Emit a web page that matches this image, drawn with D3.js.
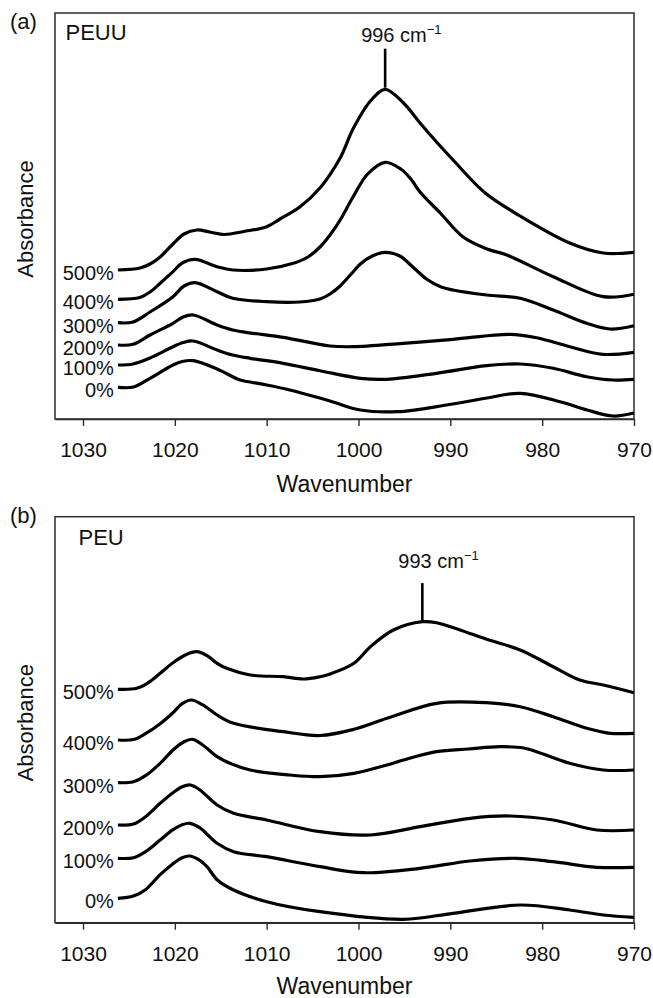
<!DOCTYPE html>
<html>
<head>
<meta charset="utf-8">
<script src="https://cdn.jsdelivr.net/npm/d3@7/dist/d3.min.js"></script>
<style>
  html, body { margin: 0; padding: 0; background: #fff; }
  svg { display: block; font-family: "Liberation Sans", Arial, Helvetica, sans-serif; }
</style>
</head>
<body>
<svg id="chart" width="653" height="998"></svg>
<script>
// Wavenumber axis ticks (cm^-1), strain levels and band labels
const wavenumberTicks = [1030, 1020, 1010, 1000, 990, 980, 970];
const strainLabels = ["0%", "100%", "200%", "300%", "400%", "500%"];
const bandLabels = ["996", "993"];

// PEUU spectra: [wavenumber, absorbance (stacked, arbitrary units)]
const peuu0 = [[1026.2,0.317],[1024.5,0.32],[1022.7,0.407],[1020.2,0.54],[1019.2,0.575],[1018.0,0.583],[1015.4,0.50],[1012.9,0.39],[1011.8,0.37],[1010.0,0.34],[1007.5,0.29],[1003.1,0.18],[999.8,0.09],[995.8,0.073],[990.4,0.14],[986.0,0.21],[982.4,0.257],[978.05,0.173],[975.1,0.09],[972.3,0.03],[970.0,0.06]];
const peuu100 = [[1026.2,0.54],[1024.55,0.55],[1022.7,0.61],[1020.2,0.723],[1019.1,0.765],[1018.0,0.78],[1015.4,0.69],[1013.7,0.64],[1011.8,0.607],[1008.2,0.557],[1004.2,0.483],[999.8,0.407],[996.9,0.397],[991.5,0.457],[986.05,0.533],[982.4,0.55],[978.8,0.507],[975.15,0.423],[972.3,0.39],[970.0,0.397]];
const peuu200 = [[1026.2,0.74],[1024.55,0.747],[1022.7,0.84],[1020.2,0.957],[1019.1,1.02],[1018.0,1.04],[1015.4,0.94],[1013.7,0.89],[1011.5,0.857],[1008.2,0.817],[1003.1,0.73],[1000.6,0.723],[995.15,0.757],[989.7,0.797],[983.5,0.847],[980.6,0.813],[977.0,0.723],[973.4,0.647],[970.0,0.667]];
const peuu300 = [[1026.2,0.963],[1024.55,0.97],[1022.7,1.07],[1020.2,1.223],[1019.0,1.33],[1017.8,1.363],[1015.4,1.273],[1013.7,1.207],[1010.0,1.173],[1006.4,1.17],[1004.2,1.20],[1003.1,1.25],[1002.0,1.33],[1000.6,1.47],[999.8,1.55],[998.5,1.63],[997.1,1.667],[995.5,1.63],[994.2,1.53],[992.6,1.40],[991.0,1.32],[989.7,1.29],[986.05,1.24],[982.4,1.207],[978.8,1.09],[975.15,0.957],[972.6,0.90],[970.0,0.933]];
const peuu400 = [[1026.2,1.197],[1023.8,1.215],[1022.7,1.27],[1021.6,1.357],[1020.2,1.473],[1019.2,1.56],[1017.8,1.597],[1015.4,1.523],[1013.7,1.49],[1010.0,1.50],[1007.1,1.557],[1005.5,1.62],[1004.2,1.72],[1003.1,1.84],[1002.0,1.99],[1000.6,2.22],[999.0,2.45],[997.1,2.567],[995.4,2.50],[994.3,2.40],[993.3,2.27],[991.1,2.06],[988.6,1.82],[986.0,1.70],[983.85,1.64],[978.8,1.423],[973.35,1.223],[970.0,1.247]];
const peuu500 = [[1026.2,1.49],[1023.8,1.51],[1022.7,1.55],[1021.6,1.62],[1020.2,1.75],[1019.0,1.85],[1017.6,1.89],[1016.2,1.87],[1014.6,1.845],[1012.5,1.875],[1010.0,1.923],[1008.55,2.0],[1006.4,2.12],[1004.2,2.31],[1002.0,2.61],[1000.6,2.90],[998.7,3.18],[997.1,3.297],[995.1,3.16],[993.3,2.96],[991.5,2.77],[989.7,2.59],[986.2,2.26],[982.4,2.03],[977.0,1.76],[973.35,1.66],[970.0,1.667]];

// PEU spectra: [wavenumber, absorbance (stacked, arbitrary units)]
const peu0 = [[1026.2,0.244],[1024.5,0.267],[1023.2,0.33],[1021.6,0.48],[1020.2,0.59],[1019.2,0.65],[1018.4,0.667],[1017.4,0.63],[1016.5,0.56],[1015.4,0.43],[1013.6,0.327],[1010.0,0.21],[1004.2,0.11],[995.1,0.034],[989.7,0.094],[982.4,0.177],[977.0,0.127],[973.35,0.077],[970.0,0.054]];
const peu100 = [[1026.2,0.644],[1024.5,0.65],[1023.2,0.71],[1021.6,0.827],[1020.2,0.93],[1019.2,0.98],[1018.35,0.994],[1017.3,0.95],[1015.4,0.794],[1013.6,0.71],[1010.0,0.66],[1004.2,0.56],[999.45,0.50],[993.3,0.544],[987.85,0.617],[982.8,0.644],[978.8,0.61],[974.05,0.554],[970.0,0.554]];
const peu200 = [[1026.2,0.977],[1024.5,0.987],[1023.2,1.06],[1021.6,1.194],[1020.2,1.30],[1019.2,1.36],[1018.3,1.377],[1017.3,1.33],[1015.4,1.177],[1013.6,1.094],[1010.0,1.027],[1004.2,0.91],[998.7,0.877],[993.3,0.96],[987.85,1.044],[983.5,1.067],[978.8,1.027],[974.05,0.927],[970.0,0.927]];
const peu300 = [[1026.2,1.40],[1024.5,1.41],[1023.2,1.47],[1021.6,1.594],[1020.2,1.727],[1019.0,1.81],[1018.05,1.834],[1017.0,1.78],[1015.4,1.66],[1014.0,1.594],[1011.8,1.527],[1007.5,1.477],[1004.2,1.46],[1000.5,1.494],[996.9,1.577],[995.1,1.627],[991.5,1.71],[988.0,1.737],[984.6,1.76],[982.0,1.747],[980.6,1.71],[977.0,1.594],[973.35,1.527],[970.0,1.527]];
const peu400 = [[1026.2,1.827],[1024.5,1.832],[1023.2,1.89],[1021.6,1.99],[1020.2,2.10],[1019.2,2.19],[1018.2,2.227],[1017.0,2.18],[1015.4,2.077],[1013.6,1.994],[1008.2,1.91],[1004.2,1.872],[1000.5,1.934],[996.9,2.044],[991.5,2.194],[986.05,2.20],[982.4,2.16],[978.8,2.06],[975.15,1.944],[972.6,1.894],[970.0,1.894]];
const peu500 = [[1026.2,2.334],[1024.15,2.344],[1022.9,2.40],[1021.6,2.494],[1020.2,2.60],[1018.8,2.68],[1017.6,2.71],[1016.5,2.67],[1015.4,2.594],[1014.35,2.544],[1011.8,2.477],[1008.2,2.46],[1006.0,2.437],[1004.2,2.46],[1003.1,2.487],[1000.5,2.594],[998.7,2.76],[996.2,2.927],[993.05,3.01],[991.5,3.00],[988.95,2.927],[986.05,2.834],[982.4,2.727],[978.8,2.56],[975.9,2.427],[973.35,2.377],[970.0,2.30]];

const svg = d3.select("#chart");
const FONT = "\"Liberation Sans\", Arial, Helvetica, sans-serif";

const plotLeft = 55, plotRight = 634;
const x = d3.scaleLinear().domain([1033.05, 970]).range([plotLeft, plotRight]);

const panels = [
  { tag: "(a)", name: "PEUU", series: [peuu0, peuu100, peuu200, peuu300, peuu400, peuu500],
    band: bandLabels[0], top: 13, bottom: 419, tagY: 29, nameX: 65.5, nameY: 40, stem: 39, textGap: 7, titleY: 492 },
  { tag: "(b)", name: "PEU", series: [peu0, peu100, peu200, peu300, peu400, peu500],
    band: bandLabels[1], top: 516.7, bottom: 922.7, tagY: 523, nameX: 78.5, nameY: 545, stem: 37, textGap: 15.5, titleY: 993.5 }
];

panels.forEach(p => {
  const y = d3.scaleLinear().domain([0, 4.06]).range([p.bottom, p.top]);
  const g = svg.append("g");

  // frame
  g.append("rect")
    .attr("x", plotLeft).attr("y", p.top)
    .attr("width", plotRight - plotLeft).attr("height", p.bottom - p.top)
    .attr("fill", "none").attr("stroke", "#2b2b2b").attr("stroke-width", 1.5);

  // wavenumber axis
  const axis = d3.axisBottom(x).tickValues(wavenumberTicks).tickSize(7).tickSizeOuter(0).tickPadding(16)
    .tickFormat(d3.format("d"));
  const ax = g.append("g").attr("transform", `translate(0,${p.bottom})`).call(axis);
  ax.select(".domain").attr("stroke", "#2b2b2b").attr("stroke-width", 1.5);
  ax.selectAll(".tick line").attr("stroke", "#2b2b2b").attr("stroke-width", 1.4);
  ax.selectAll(".tick text").attr("fill", "#111").style("font-size", "21px").style("font-family", FONT);

  g.append("text")
    .attr("x", (plotLeft + plotRight) / 2).attr("y", p.titleY)
    .attr("text-anchor", "middle").attr("fill", "#111")
    .style("font-size", "23px").text("Wavenumber");

  g.append("text")
    .attr("transform", `translate(33,${(p.top + p.bottom) / 2 + 3}) rotate(-90)`)
    .attr("text-anchor", "middle").attr("fill", "#111")
    .style("font-size", "22px").text("Absorbance");

  // panel tag and polymer name
  g.append("text").attr("x", 10).attr("y", p.tagY).attr("fill", "#111")
    .style("font-size", "22px").text(p.tag);
  g.append("text").attr("x", p.nameX).attr("y", p.nameY).attr("fill", "#111")
    .style("font-size", "22px").text(p.name);

  // spectra
  const line = d3.line().x(d => x(d[0])).y(d => y(d[1])).curve(d3.curveCatmullRom.alpha(0.5));
  g.selectAll("path.spectrum").data(p.series).join("path")
    .attr("class", "spectrum")
    .attr("d", line)
    .attr("fill", "none").attr("stroke", "#000").attr("stroke-width", 3.2)
    .attr("stroke-linejoin", "round").attr("stroke-linecap", "butt");

  // strain labels at the start of each spectrum
  g.selectAll("text.strain").data(p.series).join("text")
    .attr("class", "strain")
    .attr("x", d => x(d[0][0]) - 4)
    .attr("y", d => y(d[0][1]) + 3 + 7)
    .attr("text-anchor", "end").attr("fill", "#111")
    .style("font-size", "20px")
    .text((d, i) => strainLabels[i]);

  // band marker at the maximum of the top spectrum
  const top = p.series[p.series.length - 1];
  const peak = top.reduce((a, b) => (b[1] > a[1] ? b : a));
  const px = x(peak[0]), py = y(peak[1]) - 1.6;
  g.append("line")
    .attr("x1", px).attr("x2", px).attr("y1", py).attr("y2", py - p.stem)
    .attr("stroke", "#000").attr("stroke-width", 2.6);
  const label = g.append("text")
    .attr("x", px - 24).attr("y", py - p.stem - p.textGap)
    .attr("fill", "#111").style("font-size", "20px");
  label.append("tspan").text(p.band + " cm");
  label.append("tspan").attr("dy", -8).style("font-size", "13px").text("\u22121");
});
</script>
</body>
</html>
